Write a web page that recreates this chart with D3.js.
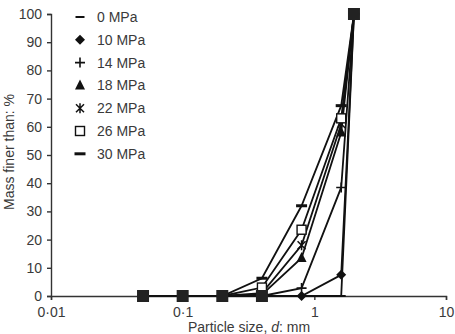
<!DOCTYPE html>
<html>
<head>
<meta charset="utf-8">
<script src="https://cdn.jsdelivr.net/npm/d3@7"></script>
<style>
  body { margin: 0; background: #fff; }
  text { font-family: "Liberation Sans", Arial, sans-serif; fill: #3a3a3a; }
</style>
</head>
<body>
<svg id="chart" width="455" height="334"></svg>
<script>
// sieve sizes, mm
var sizes = [0.05, 0.1, 0.2, 0.4, 0.8, 1.6, 2.0];
var pressures = ['0 MPa', '10 MPa', '14 MPa', '18 MPa', '22 MPa', '26 MPa', '30 MPa'];
var markers = ['dash', 'diamond', 'plus', 'triangle', 'star', 'square', 'bar'];
// mass finer than, % for each pressure
var mpa0 = [0, 0, 0, 0, 0, 0, 100];
var mpa10 = [0, 0, 0, 0, 0, 7.5, 100];
var mpa14 = [0, 0, 0, 0, 2.8, 38.5, 100];
var mpa18 = [0, 0, 0, 0.5, 13.5, 58, 100];
var mpa22 = [0, 0, 0, 1, 18, 61, 100];
var mpa26 = [0, 0, 0, 3, 23.5, 63, 100];
var mpa30 = [0, 0, 0, 6.3, 32, 67.5, 100];
var series = [mpa0, mpa10, mpa14, mpa18, mpa22, mpa26, mpa30];
var xTicks = [0.01, 0.1, 1, 10];
var yTicks = d3.range(0, 101, 10);

var margin = { top: 14, right: 9, bottom: 38, left: 51 };
var width = 455 - margin.left - margin.right;
var height = 334 - margin.top - margin.bottom;

var svg = d3.select('#chart');
var g = svg.append('g').attr('transform', `translate(${margin.left},${margin.top})`);

var x = d3.scaleLog().domain([0.01, 10]).range([0, width]);
var y = d3.scaleLinear().domain([0, 100]).range([height, 0]);

var fmt = function (d) { return String(d).replace('.', '\u00b7'); };

var xAxis = g.append('g')
  .attr('transform', `translate(0,${height})`)
  .call(d3.axisBottom(x).tickValues(xTicks).tickFormat(fmt).tickSizeOuter(0).tickSize(4).tickPadding(7));
var yAxis = g.append('g')
  .call(d3.axisLeft(y).tickValues(yTicks).tickSizeOuter(0).tickSize(4).tickPadding(5));
[xAxis, yAxis].forEach(function (a) {
  a.selectAll('path, line').attr('stroke', '#333').attr('stroke-width', 1.4);
  a.selectAll('text').attr('font-size', 14).style('fill', '#3a3a3a');
});

// lines
var line = d3.line().x(function (d, i) { return x(sizes[i]); }).y(function (d) { return y(d); });
g.append('g').selectAll('path').data(series).enter()
  .append('path')
  .attr('d', line)
  .attr('fill', 'none')
  .attr('stroke', '#111')
  .attr('stroke-width', 1.8);

function drawMarker(sel, type) {
  if (type === 'dash') {
    sel.append('line').attr('x1', -4.5).attr('x2', 4.5).attr('stroke', '#111').attr('stroke-width', 2);
  } else if (type === 'bar') {
    sel.append('line').attr('x1', -5.5).attr('x2', 5.5).attr('stroke', '#111').attr('stroke-width', 3);
  } else if (type === 'diamond') {
    sel.append('path').attr('d', 'M0,-5L5,0L0,5L-5,0Z').attr('fill', '#111');
  } else if (type === 'plus') {
    sel.append('path').attr('d', 'M-5,0H5M0,-5V5').attr('stroke', '#111').attr('stroke-width', 1.6);
  } else if (type === 'triangle') {
    sel.append('path').attr('d', 'M0,-6L5,4H-5Z').attr('fill', '#111');
  } else if (type === 'star') {
    sel.append('path').attr('d', 'M-4,-4L4,4M-4,4L4,-4M0,-5V5').attr('stroke', '#111').attr('stroke-width', 1.5);
  } else if (type === 'square') {
    sel.append('rect').attr('x', -4.5).attr('y', -4.5).attr('width', 9).attr('height', 9)
      .attr('fill', '#fff').attr('stroke', '#111').attr('stroke-width', 1.4);
  }
}

series.forEach(function (s, k) {
  g.append('g').selectAll('g').data(s).enter()
    .append('g')
    .attr('transform', function (d, i) { return `translate(${x(sizes[i])},${y(d)})`; })
    .each(function () { drawMarker(d3.select(this), markers[k]); });
});

// where many series coincide the markers pile up into a solid block
sizes.forEach(function (sz, i) {
  var vals = series.map(function (s) { return s[i]; });
  var same = vals.filter(function (v) { return v === vals[0]; }).length;
  if (same >= 3) {
    g.append('rect')
      .attr('x', x(sz) - 6).attr('y', y(vals[0]) - 6)
      .attr('width', 12).attr('height', 12)
      .attr('fill', '#222');
  }
});

// legend
var legend = g.append('g').attr('transform', 'translate(29,3)');
pressures.forEach(function (p, k) {
  var row = legend.append('g').attr('transform', `translate(0,${k * 22.8})`);
  drawMarker(row.append('g'), markers[k]);
  row.append('text').attr('x', 17).attr('y', 5).attr('font-size', 14).text(p);
});

// axis titles
var xl = svg.append('text')
  .attr('x', 249).attr('y', 332)
  .attr('text-anchor', 'middle')
  .attr('font-size', 14);
xl.append('tspan').text('Particle size, ');
xl.append('tspan').attr('font-style', 'italic').text('d');
xl.append('tspan').text(': mm');

svg.append('text')
  .attr('transform', 'translate(14,152) rotate(-90)')
  .attr('text-anchor', 'middle')
  .attr('font-size', 14)
  .text('Mass finer than: %');
</script>
</body>
</html>
